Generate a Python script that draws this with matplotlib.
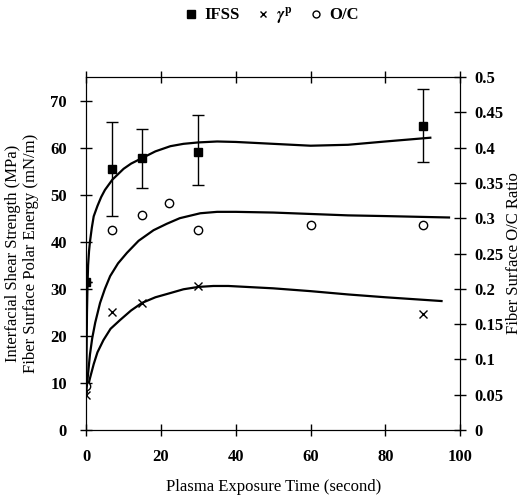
import matplotlib
matplotlib.use("Agg")
import matplotlib.pyplot as plt
from matplotlib.lines import Line2D

plt.rcParams.update({
    "font.family": "Liberation Serif",
    "font.weight": "bold",
    "font.size": 12,
    "mathtext.fontset": "stix",
})

# ─── Données ───────────────────────────────────────────────────────────────────
time_s = [0, 7, 15, 30, 90]
ifss = [31.5, 55.5, 57.8, 59.0, 64.5]
ifss_lo = [31.5, 45.5, 51.5, 52.0, 57.0]
ifss_hi = [31.5, 65.5, 64.0, 67.0, 72.5]

gamma_p = [7.5, 25.0, 27.0, 30.5, 24.7]

oc_time = [0, 7, 15, 22, 30, 60, 90]
oc_ratio = [0.063, 0.283, 0.304, 0.321, 0.283, 0.291, 0.290]

# courbes d'ajustement (relevées point par point sur l'original)
fit_ifss_x = [0, 0.1, 0.2, 0.35, 0.5, 0.75, 1, 1.5, 2, 3, 4, 5, 7, 10, 12, 15, 18.5,
              22.5, 26, 30, 35, 40, 50, 60, 70, 80, 92]
fit_ifss_y = [8, 17, 25, 31, 35, 38, 40, 43, 45.4, 47.6, 49.5, 51, 53.2, 55.5, 56.6,
              57.8, 59.2, 60.3, 60.8, 61.1, 61.3, 61.2, 60.8, 60.4, 60.6, 61.3, 62.1]

fit_gp_x = [0, 0.5, 1, 2, 3, 4.6, 6.5, 9.1, 12, 14.9, 18.5, 22.5, 26, 30, 34, 38,
            50, 60, 70, 80, 95]
fit_gp_y = [7.5, 9.3, 11, 14, 16.5, 19.1, 21.5, 23.4, 25.4, 27.0, 28.2, 29.1, 29.9,
            30.4, 30.6, 30.6, 30.1, 29.5, 28.8, 28.2, 27.4]

fit_oc_x = [0, 0.5, 1, 1.6, 2.4, 3.7, 5, 6.4, 8.5, 10.9, 14, 18, 21.5, 25, 30.5, 35,
            40, 50, 60, 70, 80, 97]
fit_oc_y = [0.053, 0.08, 0.107, 0.13, 0.152, 0.18, 0.2, 0.218, 0.236, 0.251,
            0.268, 0.283, 0.292, 0.300, 0.307, 0.309, 0.309, 0.308, 0.306, 0.304,
            0.303, 0.301]

# ─── Figure ──────────────────────────────────────────────────────────────────
fig = plt.figure(figsize=(5.29, 5.0), dpi=100)
ax = fig.add_axes([0.163, 0.14, 0.707, 0.706])
ax2 = ax.twinx()

yerr = [[v - lo for v, lo in zip(ifss, ifss_lo)], [hi - v for v, hi in zip(ifss, ifss_hi)]]
ax.errorbar(time_s, ifss, yerr=yerr, fmt="s", color="black", ms=6,
            capsize=4, elinewidth=1, capthick=1, zorder=3)
ax.plot(fit_ifss_x, fit_ifss_y, color="black", lw=1.6)
ax.plot(time_s, gamma_p, "x", color="black", ms=6, mew=1)
ax.plot(fit_gp_x, fit_gp_y, color="black", lw=1.6)

ax2.plot(oc_time, oc_ratio, "o", mfc="white", mec="black", ms=6, mew=1)
ax2.plot(fit_oc_x, fit_oc_y, color="black", lw=1.6)

ax.set_xlim(0, 100)
ax.set_ylim(0, 75)
ax2.set_ylim(0, 0.5)
ax.set_xticks(range(0, 101, 20))
ax.set_yticks(range(0, 71, 10))
ax2.set_yticks([i * 0.05 for i in range(11)])
ax2.set_yticklabels(["0", "0.05", "0.1", "0.15", "0.2", "0.25", "0.3",
                     "0.35", "0.4", "0.45", "0.5"])

ax.tick_params(axis="both", direction="inout", length=8, width=1, top=True)
ax2.tick_params(axis="y", direction="inout", length=8, width=1, pad=6)
ax.tick_params(axis="x", pad=10)
ax.tick_params(axis="y", pad=10)

ax.set_xlabel("Plasma Exposure Time (second)", labelpad=10)
ax.set_ylabel("Interfacial Shear Strength (MPa)\nFiber Surface Polar Energy (mN/m)",
              labelpad=8)
ax2.set_ylabel("Fiber Surface O/C Ratio", labelpad=2)

handles = [
    Line2D([], [], ls="", marker="s", color="black", ms=6),
    Line2D([], [], ls="", marker="x", color="black", ms=5),
    Line2D([], [], ls="", marker="o", mfc="white", mec="black", ms=5),
]
fig.legend(handles, ["IFSS", r"$\gamma^\mathrm{p}$", "O/C"], loc="upper center",
           bbox_to_anchor=(0.51, 1.02), ncol=3, frameon=False,
           handletextpad=0.2, columnspacing=0.8, handlelength=1.2)

fig.savefig("out.png", dpi=100)
